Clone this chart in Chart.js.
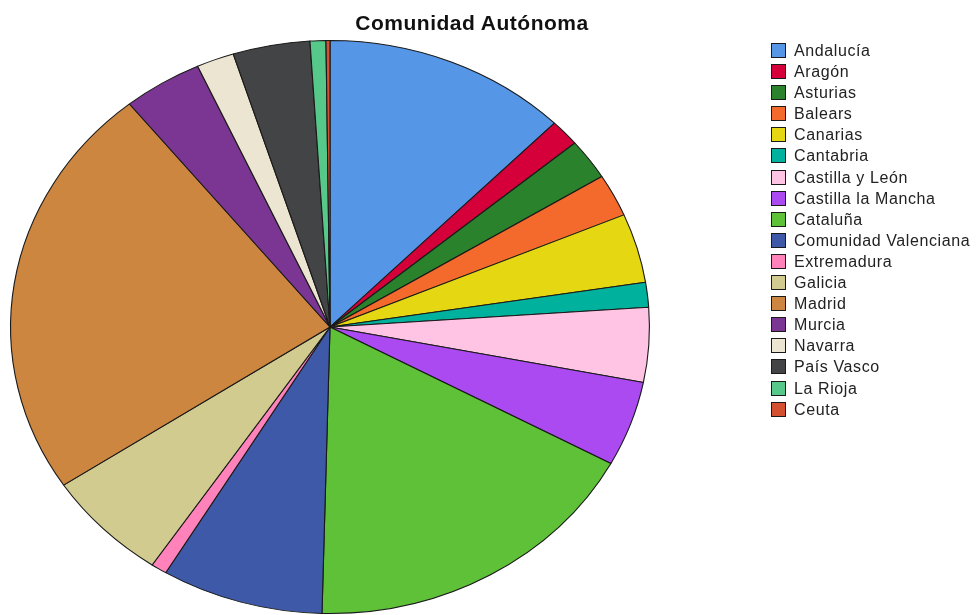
<!DOCTYPE html>
<html>
<head>
<meta charset="utf-8">
<script src="https://cdn.jsdelivr.net/npm/chart.js@4"></script>
<style>
  html, body { margin: 0; padding: 0; background: #fff; }
  #wrap { position: relative; width: 980px; height: 615px; overflow: hidden; }
  #pie { position: absolute; left: 0; top: 0; }
  #title {
    position: absolute; left: 272px; top: 11px; width: 400px; text-align: center;
    font: bold 21px "Liberation Sans", Arial, sans-serif; color: #111; letter-spacing: 0.5px;
  }
  #legend { position: absolute; left: 771px; top: 42px; list-style: none; margin: 0; padding: 0; }
  #legend li {
    height: 21.1px; line-height: 17px;
    font: 16px "Liberation Sans", Arial, sans-serif; color: #222; letter-spacing: 0.6px;
    white-space: nowrap;
  }
  #legend span.box {
    display: inline-block; width: 13px; height: 13px; border: 1px solid #1a1a1a;
    vertical-align: -2px; margin-right: 8px;
  }
</style>
</head>
<body>
<div id="wrap">
  <canvas id="pie" width="980" height="615"></canvas>
  <div id="title">Comunidad Autónoma</div>
  <ul id="legend"></ul>
</div>
<script>
// Comunidades (orden del gráfico, empezando arriba y en sentido horario)
const labels = [
    "Andalucía", "Aragón", "Asturias", "Balears", "Canarias", "Cantabria",
    "Castilla y León", "Castilla la Mancha", "Cataluña", "Comunidad Valenciana",
    "Extremadura", "Galicia", "Madrid", "Murcia", "Navarra", "País Vasco",
    "La Rioja", "Ceuta"
];

// porcentaje aproximado leído de cada sector
const values = [
    12.4, 1.5, 2.3, 2.4, 3.9, 1.4,
    4.2, 4.8, 17.5, 8.2,
    0.8, 6.3, 23.5, 4.0, 1.9, 3.9,
    0.8, 0.2
];

const colors = [
    '#5596e6', '#d5003a', '#2a822c', '#f46a2c', '#e5d711', '#00b19e',
    '#ffc4e4', '#ac4af2', '#5ec138', '#3e59a8',
    '#ff82ba', '#d1cb8f', '#cd8640', '#7b3592', '#ece5d1', '#434446',
    '#56c98a', '#d35130'
];

// the original pie is a bit wider than tall
const stretch_x = 320 / 287;

const ellipse_plugin = {
    id: 'ellipse',
    beforeDatasetsDraw(chart) {
        const arc = chart.getDatasetMeta(0).data[0];
        const ctx = chart.ctx;
        ctx.save();
        ctx.translate(arc.x, arc.y);
        ctx.scale(stretch_x, 1);
        ctx.translate(-arc.x, -arc.y);
    },
    afterDatasetsDraw(chart) {
        chart.ctx.restore();
    }
};

/**
 * Build the legend list next to the pie
 */
function build_legend() {
    let html_content = '';

    labels.forEach((label, i) => {
        html_content += '<li><span class="box" style="background:' + colors[i] + '"></span>' + label + '</li>';
    });

    document.getElementById('legend').innerHTML = html_content;
}

build_legend();

new Chart(document.getElementById('pie').getContext('2d'), {
    type: 'pie',
    data: {
        labels: labels,
        datasets: [{
            data: values,
            backgroundColor: colors,
            borderColor: '#1a1a1a',
            borderWidth: 1
        }]
    },
    options: {
        responsive: false,
        animation: false,
        layout: {
            padding: { top: 40, bottom: 1, left: 43, right: 363 }
        },
        plugins: {
            legend: { display: false },
            title: { display: false },
            tooltip: { enabled: false }
        }
    },
    plugins: [ellipse_plugin]
});
</script>
</body>
</html>
